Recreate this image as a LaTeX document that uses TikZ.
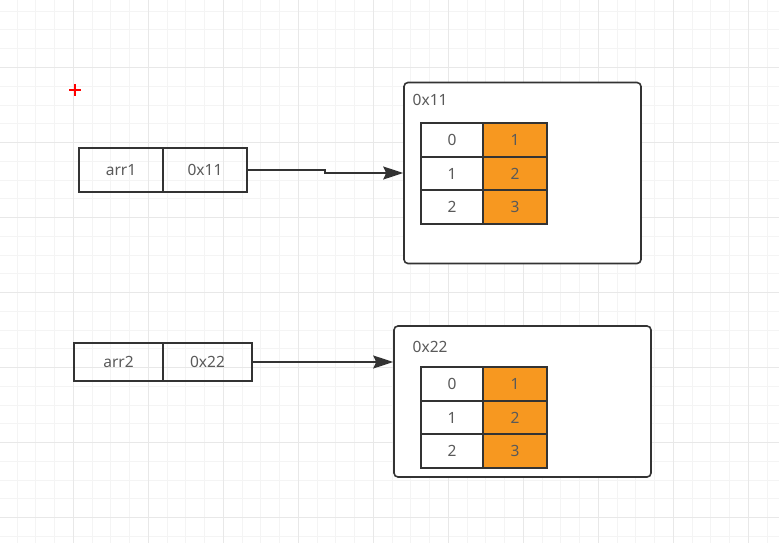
\documentclass[tikz,border=0pt]{standalone}
\usepackage{fontspec}
\setmainfont{Noto Sans}
\usetikzlibrary{arrows.meta, calc, positioning}
\definecolor{gridminor}{RGB}{244,244,244}
\definecolor{gridmajor}{RGB}{232,232,232}
\definecolor{strokegray}{RGB}{51,51,51}
\definecolor{textgray}{RGB}{90,90,90}
\definecolor{cellorange}{RGB}{247,152,32}

\begin{document}
\begin{tikzpicture}[x=1pt, y=-1pt, >={Stealth[length=20pt, width=13pt, inset=3pt]},
    cell/.style={draw=strokegray, line width=1.6pt, inner sep=0pt, outer sep=0pt,
        font=\fontsize{15.5}{17}\selectfont, text=textgray},
    varcell/.style={cell, minimum height=44pt},
    idxcell/.style={cell, fill=white, minimum width=62pt, minimum height=33.5pt},
    valcell/.style={cell, fill=cellorange, minimum width=64pt, minimum height=33.5pt},
    membox/.style={draw=strokegray, line width=1.6pt, rounded corners=4pt, fill=white, inner sep=0pt},
    addrlabel/.style={anchor=west, font=\fontsize{15.5}{17}\selectfont, text=textgray, inner sep=0pt},
    link/.style={draw=strokegray, line width=1.6pt, ->}]
    \useasboundingbox (0,0) rectangle (779,543);
    \fill[white] (0,0) rectangle (779,543);

    % Background grid
    \foreach \i in {0,...,41}
        \draw[gridminor, line width=1pt] ({17.05+18.75*\i},0) -- ({17.05+18.75*\i},543);
    \foreach \j in {0,...,28}
        \draw[gridminor, line width=1pt] (0,{11.25+18.75*\j}) -- (779,{11.25+18.75*\j});
    \foreach \i in {0,...,9}
        \draw[gridmajor, line width=1.2pt] ({73.3+75*\i},0) -- ({73.3+75*\i},543);
    \foreach \j in {0,...,6}
        \draw[gridmajor, line width=1.2pt] (0,{67.5+75*\j}) -- (779,{67.5+75*\j});

    % Red cross
    \draw[red, line width=2.8pt] (69,90) -- (81,90) (75,84) -- (75,96);

    % Memory block 0x11
    \node[membox, minimum width=237pt, minimum height=181pt] (mem1) at (522.5,173) {};
    \node[addrlabel] (addr1) at (412.5,99.5) {0x11};
    \foreach \r [evaluate=\r as \v using int(\r+1)] in {0,1,2} {
        \node[idxcell] (t1i\r) at (452,{140+33.5*\r}) {\r};
        \node[valcell] (t1v\r) at (515,{140+33.5*\r}) {\v};
    }

    % Memory block 0x22
    \node[membox, minimum width=257pt, minimum height=151pt] (mem2) at (522.5,401.5) {};
    \node[addrlabel] (addr2) at (412.5,347) {0x22};
    \foreach \r [evaluate=\r as \v using int(\r+1)] in {0,1,2} {
        \node[idxcell] (t2i\r) at (452,{384+33.5*\r}) {\r};
        \node[valcell] (t2v\r) at (515,{384+33.5*\r}) {\v};
    }

    % Variable arr1
    \node[varcell, minimum width=84pt] (arr1n) at (121,170) {arr1};
    \node[varcell, minimum width=84pt, right=0pt of arr1n] (arr1v) {0x11};

    % Variable arr2
    \node[varcell, minimum width=89pt, minimum height=38pt] (arr2n) at (118.5,362) {arr2};
    \node[varcell, minimum width=89pt, minimum height=38pt, right=0pt of arr2n] (arr2v) {0x22};

    % References
    \draw[link] (arr1v.east) -- ++(78,0) |- (mem1.west);
    \draw[link] (arr2v.east) -- (arr2v.east -| mem2.west);
\end{tikzpicture}
\end{document}
